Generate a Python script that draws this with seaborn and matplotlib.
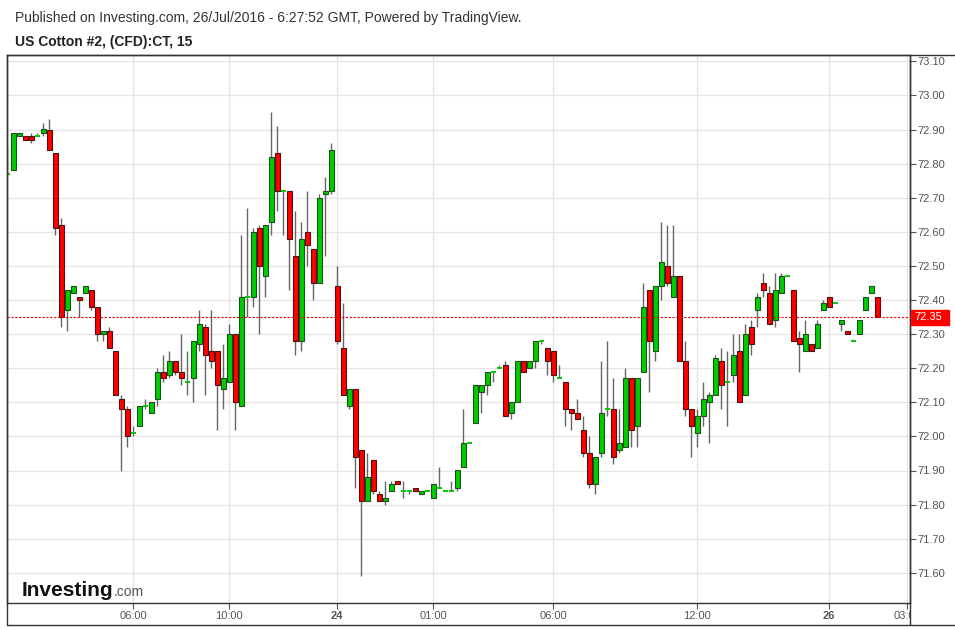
import matplotlib
matplotlib.use("Agg")
import matplotlib.pyplot as plt
import seaborn as sns
import numpy as np
from matplotlib.lines import Line2D
from matplotlib.patches import Rectangle
from matplotlib.transforms import Bbox, TransformedBbox, blended_transform_factory

# 15-minute candles (index = bar number)
opens = [72.77, 72.78, 72.88, 72.88, 72.88, 72.88, 72.89, 72.90, 72.83, 72.62,
         72.37, 72.42, 72.41, 72.42, 72.43, 72.38, 72.30, 72.31, 72.25, 72.11,
         72.08, 72.01, 72.03, 72.09, 72.07, 72.11, 72.19, 72.18, 72.22, 72.19,
         72.16, 72.17, 72.27, 72.32, 72.25, 72.25, 72.14, 72.16, 72.30, 72.09,
         72.41, 72.41, 72.61, 72.47, 72.63, 72.83, 72.72, 72.72, 72.53, 72.28,
         72.60, 72.55, 72.45, 72.71, 72.72, 72.44, 72.26, 72.09, 72.14, 71.96,
         71.81, 71.93, 71.83, 71.81, 71.84, 71.87, 71.84, 71.84, 71.85, 71.83,
         71.84, 71.82, 71.85, 71.84, 71.84, 71.85, 71.91, 71.98, 72.04, 72.13,
         72.15, 72.19, 72.20, 72.21, 72.07, 72.10, 72.22, 72.20, 72.22, 72.28,
         72.26, 72.25, 72.17, 72.16, 72.08, 72.07, 72.02, 71.95, 71.86, 71.95,
         72.08, 72.08, 71.96, 71.97, 72.17, 72.03, 72.19, 72.43, 72.25, 72.44,
         72.50, 72.41, 72.47, 72.22, 72.08, 72.01, 72.06, 72.10, 72.12, 72.22,
         72.16, 72.18, 72.25, 72.12, 72.32, 72.37, 72.45, 72.42, 72.34, 72.42,
         72.47, 72.43, 72.29, 72.25, 72.27, 72.26, 72.37, 72.41, 72.39, 72.33,
         72.31, 72.28, 72.30, 72.37, 72.42, 72.41]
highs = [72.85, 72.89, 72.89, 72.88, 72.89, 72.89, 72.92, 72.93, 72.83, 72.64,
         72.43, 72.44, 72.41, 72.44, 72.43, 72.38, 72.31, 72.32, 72.25, 72.12,
         72.09, 72.03, 72.09, 72.11, 72.10, 72.20, 72.24, 72.25, 72.22, 72.30,
         72.25, 72.28, 72.37, 72.33, 72.37, 72.25, 72.27, 72.33, 72.30, 72.59,
         72.67, 72.61, 72.62, 72.62, 72.95, 72.91, 72.72, 72.72, 72.66, 72.63,
         72.72, 72.55, 72.71, 72.76, 72.86, 72.50, 72.39, 72.14, 72.14, 71.96,
         71.95, 71.93, 71.84, 71.87, 71.87, 71.87, 71.87, 71.84, 71.85, 71.84,
         71.84, 71.86, 71.91, 71.84, 71.87, 71.90, 72.08, 71.98, 72.15, 72.15,
         72.19, 72.19, 72.21, 72.22, 72.10, 72.22, 72.22, 72.22, 72.28, 72.28,
         72.26, 72.25, 72.21, 72.16, 72.08, 72.11, 72.06, 72.00, 71.94, 72.22,
         72.28, 72.17, 72.08, 72.20, 72.17, 72.17, 72.45, 72.43, 72.44, 72.63,
         72.62, 72.62, 72.47, 72.28, 72.08, 72.08, 72.16, 72.13, 72.24, 72.26,
         72.25, 72.30, 72.30, 72.33, 72.34, 72.42, 72.48, 72.44, 72.48, 72.48,
         72.47, 72.43, 72.31, 72.34, 72.27, 72.34, 72.40, 72.41, 72.39, 72.34,
         72.31, 72.28, 72.34, 72.41, 72.44, 72.41]
lows = [72.76, 72.78, 72.88, 72.87, 72.86, 72.88, 72.88, 72.84, 72.59, 72.32,
        72.31, 72.42, 72.35, 72.42, 72.37, 72.28, 72.28, 72.26, 72.12, 71.90,
        71.97, 72.00, 72.03, 72.08, 72.07, 72.09, 72.16, 72.17, 72.18, 72.15,
        72.12, 72.10, 72.25, 72.12, 72.20, 72.02, 72.08, 72.16, 72.02, 72.09,
        72.35, 72.38, 72.30, 72.41, 72.59, 72.66, 72.59, 72.43, 72.24, 72.25,
        72.50, 72.40, 72.45, 72.53, 72.71, 72.27, 72.12, 72.08, 71.85, 71.59,
        71.81, 71.83, 71.81, 71.80, 71.84, 71.86, 71.82, 71.83, 71.84, 71.83,
        71.84, 71.82, 71.85, 71.84, 71.84, 71.84, 71.91, 71.98, 72.04, 72.07,
        72.12, 72.16, 72.20, 72.06, 72.05, 72.10, 72.19, 72.20, 72.20, 72.27,
        72.18, 72.16, 72.17, 72.03, 72.02, 72.05, 71.94, 71.85, 71.83, 71.94,
        72.06, 71.92, 71.95, 71.97, 71.97, 71.97, 72.19, 72.13, 72.22, 72.40,
        72.44, 72.41, 72.22, 72.06, 71.94, 71.97, 72.03, 71.98, 72.12, 72.08,
        72.03, 72.16, 72.10, 72.12, 72.24, 72.32, 72.41, 72.33, 72.32, 72.42,
        72.47, 72.28, 72.19, 72.25, 72.25, 72.26, 72.37, 72.38, 72.39, 72.31,
        72.30, 72.28, 72.30, 72.37, 72.42, 72.35]
closes = [72.77, 72.89, 72.89, 72.87, 72.87, 72.88, 72.90, 72.84, 72.61, 72.35,
          72.43, 72.44, 72.40, 72.44, 72.38, 72.30, 72.31, 72.26, 72.12, 72.08,
          72.00, 72.01, 72.09, 72.09, 72.10, 72.19, 72.17, 72.22, 72.19, 72.17,
          72.16, 72.28, 72.33, 72.24, 72.22, 72.15, 72.17, 72.30, 72.10, 72.41,
          72.41, 72.60, 72.50, 72.62, 72.82, 72.72, 72.72, 72.58, 72.28, 72.58,
          72.56, 72.45, 72.70, 72.72, 72.84, 72.28, 72.12, 72.14, 71.94, 71.81,
          71.88, 71.84, 71.81, 71.82, 71.86, 71.86, 71.84, 71.84, 71.84, 71.84,
          71.84, 71.86, 71.85, 71.84, 71.84, 71.90, 71.98, 71.98, 72.15, 72.15,
          72.19, 72.19, 72.20, 72.06, 72.10, 72.22, 72.19, 72.22, 72.28, 72.28,
          72.22, 72.18, 72.17, 72.08, 72.07, 72.05, 71.95, 71.86, 71.94, 72.07,
          72.08, 71.94, 71.98, 72.17, 72.02, 72.17, 72.38, 72.28, 72.44, 72.51,
          72.45, 72.47, 72.22, 72.08, 72.03, 72.06, 72.11, 72.12, 72.23, 72.15,
          72.16, 72.24, 72.10, 72.30, 72.27, 72.41, 72.43, 72.33, 72.43, 72.47,
          72.47, 72.28, 72.27, 72.30, 72.25, 72.33, 72.39, 72.38, 72.39, 72.34,
          72.30, 72.28, 72.34, 72.41, 72.44, 72.35]

time_ticks = [21, 37, 55, 71, 91, 115, 137, 150]
time_labels = ["06:00", "10:00", "24", "01:00", "06:00", "12:00", "26", "03:00"]
day_labels = ["24", "26"]
price_ticks = [71.60, 71.70, 71.80, 71.90, 72.00, 72.10, 72.20, 72.30,
               72.40, 72.50, 72.60, 72.70, 72.80, 72.90, 73.00, 73.10]
last_price = 72.35

sns.set_style("white")
plt.rcParams['font.family'] = ['Liberation Sans', 'DejaVu Sans']

W, H = 955, 630
fig = plt.figure(figsize=(W / 100, H / 100), dpi=100)


def fx(px):
    return px / W


def fy(py):
    return 1 - py / H


# plot area: 7..910 px wide, 55..603 px tall
ax = fig.add_axes([fx(7), fy(603), fx(910) - fx(7), fy(55) - fy(603)])

o = np.array(opens)
c = np.array(closes)
hi = np.array(highs)
lo = np.array(lows)
idx = np.arange(len(o))

green, red = "#00cc00", "#ff0000"
up = c > o
down = c < o
flat = c == o

ax.vlines(idx, lo, hi, color="#666666", lw=1, zorder=2)
ax.bar(idx[up], (c - o)[up], bottom=o[up], width=0.78, color=green,
       edgecolor="#1f4f1f", linewidth=0.8, zorder=3)
ax.bar(idx[down], (c - o)[down], bottom=o[down], width=0.78, color=red,
       edgecolor="#4f1010", linewidth=0.8, zorder=3)
ax.hlines(o[flat], idx[flat] - 0.39, idx[flat] + 0.39, color=green, lw=1.4, zorder=3)

ax.axhline(last_price, color="#e00000", ls=(0, (2, 1.5)), lw=0.8, zorder=4)

ax.set_xlim((7 - 7.3) / 6, (910 - 7.3) / 6)
ax.set_ylim(72.90 - (603 - 129.5) / 341, 72.90 + (129.5 - 55) / 341)

ax.set_yticks(price_ticks)
ax.set_yticklabels([f"{p:.2f}" for p in price_ticks])
ax.yaxis.tick_right()
ax.tick_params(axis="y", direction="out", length=4, width=0.8, pad=1,
               colors="#555555", labelsize=8, right=True, left=False)
ax.set_xticks(time_ticks)
ax.tick_params(axis="x", direction="out", length=4, width=0.8, colors="#555555",
               labelbottom=False, bottom=True)
ax.grid(True, color="#e6e6e6", lw=1)
ax.set_axisbelow(True)
for side in ["top", "left", "bottom", "right"]:
    ax.spines[side].set_color("#333333")
    ax.spines[side].set_linewidth(1)

# time labels, the last one is cut off by the price axis
clip = TransformedBbox(Bbox([[0, 0], [fx(910), 1]]), fig.transFigure)
trans = blended_transform_factory(ax.transData, fig.transFigure)
for pos, lab in zip(time_ticks, time_labels):
    t = ax.text(pos, fy(616), lab, transform=trans, ha="center", va="center",
                fontsize=8, color="#555555",
                fontweight="bold" if lab in day_labels else "normal", clip_on=True)
    t.set_clip_box(clip)

# frame lines around the whole chart
for (x0, y0, x1, y1) in [(7, 55, 955, 55), (7, 55, 7, 625), (7, 625, 955, 625), (910, 55, 910, 625)]:
    fig.add_artist(Line2D([fx(x0), fx(x1)], [fy(y0), fy(y1)], color="#333333", lw=1))

# last price marker on the price axis
fig.add_artist(Rectangle((fx(911), fy(325)), fx(949) - fx(911), fy(310) - fy(325),
                         color="#ff0000", zorder=5))
fig.text(fx(914), fy(317.5), f"{last_price:.2f}", color="white", fontsize=8,
         va="center", ha="left", zorder=6)

fig.text(fx(15), fy(18), "Published on Investing.com, 26/Jul/2016 - 6:27:52 GMT, Powered by TradingView.",
         fontsize=10, color="#333333", va="center")
fig.text(fx(15), fy(42), "US Cotton #2, (CFD):CT, 15", fontsize=10, fontweight="bold",
         color="#222222", va="center")

# watermark logo
fig.text(fx(22), fy(596), "Investing", fontsize=15, fontweight="bold", color="#111111",
         va="baseline")
fig.text(fx(114), fy(596), ".com", fontsize=10, color="#555555", va="baseline")

fig.savefig("out.png", dpi=100)
